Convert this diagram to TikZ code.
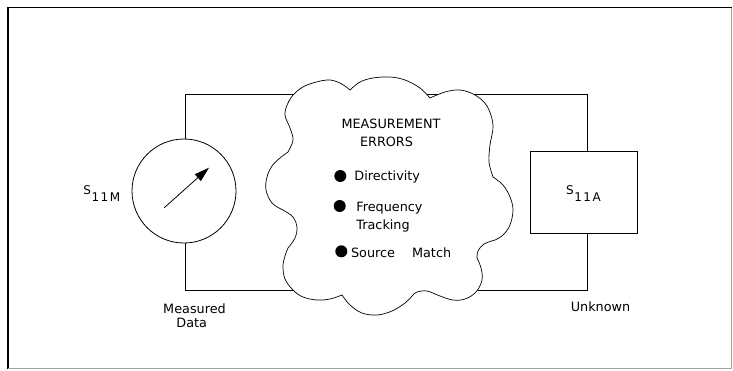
\documentclass[tikz,border=0pt]{standalone}
\usepackage{fontspec}
\setmainfont{DejaVu Sans}
\usetikzlibrary{arrows.meta}
\begin{document}
\begin{tikzpicture}[x=1pt,y=-1pt, line width=0.8pt,
  lbl/.style={font=\fontsize{12.8}{14.5}\selectfont, inner sep=0pt},
  slbl/.style={font=\fontsize{12}{13}\selectfont, inner sep=0pt},
  dotmark/.style={circle, fill=black, minimum size=12pt, inner sep=0pt},
  meterstyle/.style={circle, draw, fill=white, minimum size=104pt, inner sep=0pt},
  boxstyle/.style={rectangle, draw, fill=white, minimum width=107pt, minimum height=82pt, inner sep=0pt}]
\useasboundingbox (0,0) rectangle (733,370);
\fill[white] (0,0) rectangle (733,370);
% frame
\draw[line width=1.2pt] (8,368.5) -- (8,7.5) -- (731.5,7.5);
\draw[line width=1.2pt, gray!70] (731.5,7.5) -- (731.5,368.5) -- (8,368.5);

% nodes
\node[meterstyle] (meter) at (184,191) {};
\node[boxstyle] (box) at (583.8,192.2) {};
\coordinate (tl) at (185.5,94);
\coordinate (tr) at (587.3,94);
\coordinate (bl) at (185.5,290);
\coordinate (br) at (587.3,290);

% wires
\draw (tl |- meter.north) -- (tl) -- (tr) -- (tr |- box.north);
\draw (bl |- meter.south) -- (bl) -- (br) -- (br |- box.south);

% cloud
\draw[fill=white, line width=0.7pt]
  plot[smooth, tension=0.6] coordinates {(288,152) (293,140) (290,128) (285,115) (288,103) (295,93) (307,85) (327,80) (340,83) (350,90)}
  -- plot[smooth, tension=0.6] coordinates {(350,90) (360,82) (373,78) (390,77) (405,80) (420,88) (430,98)}
  -- plot[smooth, tension=0.6] coordinates {(430,98) (445,92) (460,90) (475,95) (487,106) (493,125) (490,145) (489,162) (493,177)}
  -- plot[smooth, tension=0.6] coordinates {(493,177) (503,185) (510,197) (513,210) (510,225) (503,235) (495,240)}
  -- plot[smooth, tension=0.6] coordinates {(495,240) (484,244) (478,251) (477,258)}
  -- plot[smooth, tension=0.6] coordinates {(477,258) (481,268) (482,280) (476,292) (465,299) (453,300) (440,296) (427,291) (417,292) (413,295)}
  -- plot[smooth, tension=0.6] coordinates {(413,295) (405,303) (392,311) (377,315) (362,313) (350,305) (342,295)}
  -- plot[smooth, tension=0.6] coordinates {(342,295) (330,299) (317,300) (303,297) (293,290) (285,279) (283,266) (285,256) (288,248)}
  -- plot[smooth, tension=0.6] coordinates {(288,248) (295,238) (297,227) (293,217) (283,210)}
  -- plot[smooth, tension=0.6] coordinates {(283,210) (272,203) (266,190) (267,177) (272,166) (280,158) (288,152)}
  -- cycle;

% meter needle
\coordinate (nstart) at (164.3,207.7);
\coordinate (ntip) at (209,167.7);
\draw[-{Triangle[length=15pt,width=9pt]}] (nstart) -- (ntip);

% cloud text
\node[lbl, anchor=base] (t1) at (391,128.3) {MEASUREMENT};
\node[lbl, anchor=base] (t2) at (386.5,146) {ERRORS};
\node[dotmark] (b1) at (340.3,176) {};
\node[dotmark] (b2) at (339.7,206) {};
\node[dotmark] (b3) at (341.3,251.3) {};
\node[lbl, anchor=base west] (d1) at (354,180.6) {Directivity};
\node[lbl, anchor=base west] (d2) at (356,211.7) {Frequency};
\node[lbl, anchor=base west] (d3) at (356,229) {Tracking};
\node[lbl, anchor=base west] (d4) at (350.7,257.3) {Source};
\node[lbl, anchor=base west] (d5) at (411.7,257.3) {Match};

% labels
\node[slbl, anchor=base west] (s11m) at (83,194.5) {S\raisebox{-6.5pt}{\kern0.5pt 1\kern1.5pt1\kern1.5ptM}};
\node[slbl, anchor=base west] (s11a) at (565.8,194.8) {S\raisebox{-6.5pt}{\kern0.5pt 1\kern1.5pt1\kern1.5ptA}};
\node[lbl, anchor=base] (m1) at (194.5,313) {Measured};
\node[lbl, anchor=base] (m2) at (191.7,327) {Data};
\node[lbl, anchor=base] (u1) at (600.5,311.5) {Unknown};
\end{tikzpicture}
\end{document}
